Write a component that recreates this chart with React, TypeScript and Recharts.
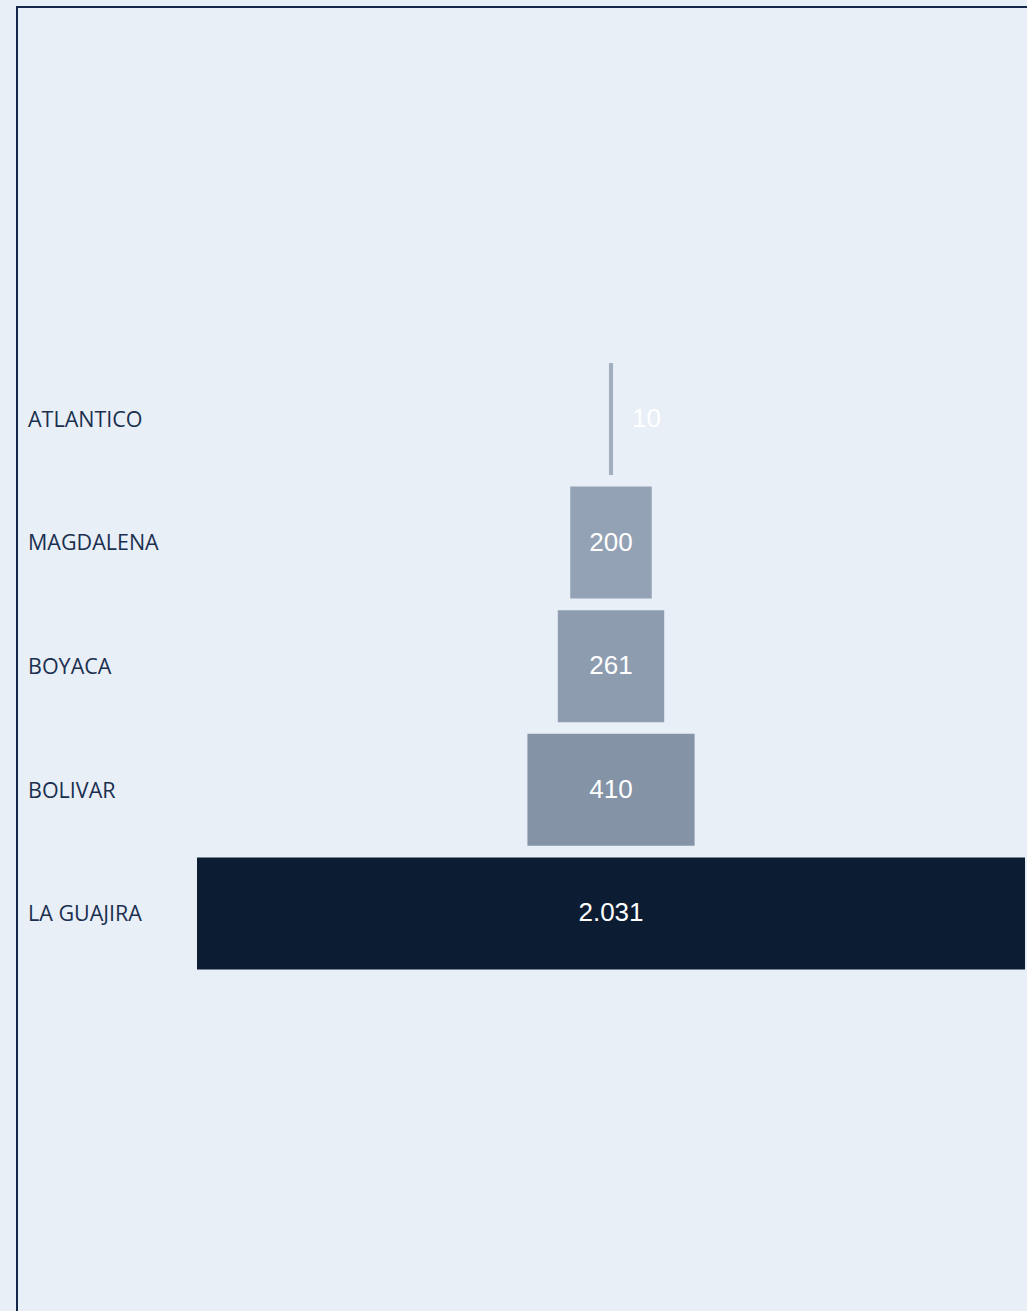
import React from "react";
import { BarChart, Bar, XAxis, YAxis, Cell, LabelList } from "recharts";

const categories = ["ATLANTICO", "MAGDALENA", "BOYACA", "BOLIVAR", "LA GUAJIRA"];
const values = [10, 200, 261, 410, 2031];
const valueLabels = ["10", "200", "261", "410", "2.031"];
const barColors = ["#A1AFC1", "#94A2B5", "#8E9CAF", "#8493A6", "#0B1C33"];

const maxValue = Math.max(...values);

const data = categories.map((name, i) => ({
  name,
  offset: (maxValue - values[i]) / 2,
  value: values[i],
  label: valueLabels[i],
}));

const CategoryTick = (props: any) => {
  const { y, payload } = props;
  return (
    <text
      x={28}
      y={y}
      dy={8}
      textAnchor="start"
      fill="#1B2F4F"
      fontFamily="'Open Sans', sans-serif"
      fontSize={21.5}
    >
      {payload.value}
    </text>
  );
};

const ValueLabel = (props: any) => {
  const { x, y, width, height, index } = props;
  const txt = valueLabels[index];
  const small = width < 40;
  return (
    <text
      x={small ? x + width + 19 : x + width / 2}
      y={y + height / 2}
      dy={8}
      textAnchor={small ? "start" : "middle"}
      fill="#FFFFFF"
      fontFamily="'Liberation Sans', Arial, sans-serif"
      fontSize={26}
    >
      {txt}
    </text>
  );
};

export default function App() {
  return (
    <div
      style={{
        position: "absolute",
        left: 0,
        top: 0,
        width: 1027,
        height: 1311,
        background: "#E8EFF7",
        overflow: "hidden",
      }}
    >
      <div
        style={{
          position: "absolute",
          left: 16,
          top: 6,
          width: 1100,
          height: 1400,
          border: "2px solid #14284A",
          boxSizing: "border-box",
        }}
      />
      <div style={{ position: "absolute", left: 0, top: 0 }}>
        <BarChart
          width={1027}
          height={1311}
          data={data}
          layout="vertical"
          margin={{ top: 357, bottom: 336, left: 0, right: 2 }}
          barSize={112}
        >
          <XAxis type="number" domain={[0, maxValue]} hide />
          <YAxis
            type="category"
            dataKey="name"
            width={197}
            axisLine={false}
            tickLine={false}
            tick={<CategoryTick />}
          />
          <Bar dataKey="offset" stackId="a" fill="transparent" isAnimationActive={false} />
          <Bar dataKey="value" stackId="a" isAnimationActive={false}>
            {data.map((d, i) => (
              <Cell key={d.name} fill={barColors[i]} />
            ))}
            <LabelList dataKey="label" content={<ValueLabel />} />
          </Bar>
        </BarChart>
      </div>
    </div>
  );
}
